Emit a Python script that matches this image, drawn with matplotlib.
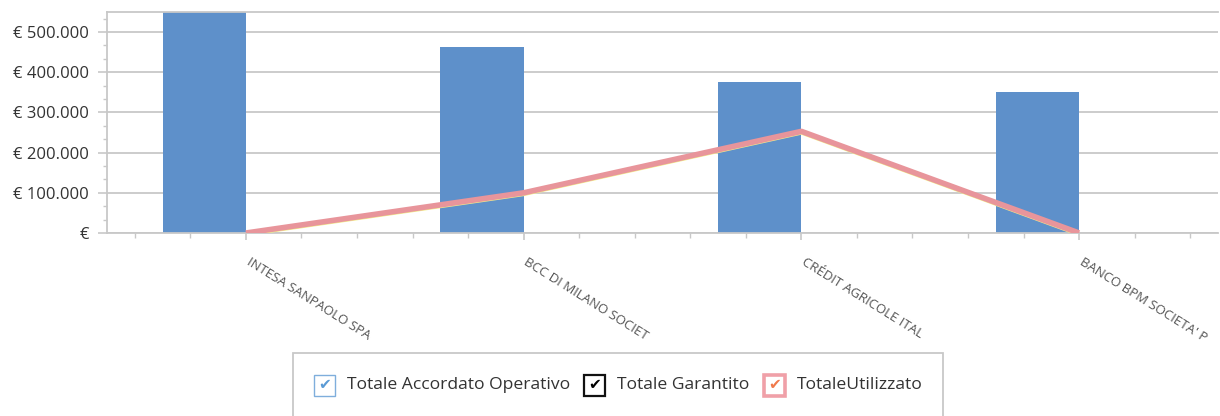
import matplotlib
matplotlib.use("Agg")
import matplotlib.pyplot as plt
from matplotlib.patches import Rectangle
from matplotlib.ticker import MultipleLocator, FuncFormatter, FixedLocator
import matplotlib.transforms as mtransforms

# ---- data ----
categories = ["INTESA SANPAOLO SPA", "BCC DI MILANO SOCIET", "CRÉDIT AGRICOLE ITAL", "BANCO BPM SOCIETA' P"]
accordato = [560000, 463000, 376000, 351000]
garantito = [0, 100000, 253000, 0]
utilizzato = [0, 100000, 253000, 0]
legend_labels = ["Totale Accordato Operativo", "Totale Garantito", "TotaleUtilizzato"]

W, H = 1220, 416
plt.rcParams['font.family'] = ['Open Sans', 'DejaVu Sans']
fig = plt.figure(figsize=(W / 100, H / 100), dpi=100)

def fx(x):
    return x / W

def fy(y):
    return 1 - y / H

ax_l, ax_r, ax_t, ax_b = 107, 1218, 12, 233
ax = fig.add_axes([fx(ax_l), fy(ax_b), fx(ax_r - ax_l), (ax_b - ax_t) / H])

grid_c = "#C8C8C8"
bar_c = "#5E90CA"
line_c = "#E8959B"

xs = list(range(len(categories)))
bar_w = 0.3
ax.bar([x - bar_w / 2 for x in xs], accordato, width=bar_w, color=bar_c, zorder=2)

off = mtransforms.offset_copy(ax.transData, fig=fig, x=0, y=-2.4, units='dots')
ax.plot(xs, garantito, color="#F2F08A", lw=1.4, zorder=3, transform=off, solid_capstyle='butt')
ax.plot(xs, utilizzato, color=line_c, lw=4.0, zorder=4, solid_capstyle='butt')

ax.set_xlim(-0.5, 3.5)
ax.set_ylim(0, 550000)

ax.yaxis.set_major_locator(MultipleLocator(100000))
ax.yaxis.set_minor_locator(MultipleLocator(100000 / 3))

def yfmt(v, pos):
    if v == 0:
        return "€"
    return "€ " + f"{v:,.0f}".replace(",", ".")

ax.yaxis.set_major_formatter(FuncFormatter(yfmt))
ax.set_xticks(xs)
ax.set_xticklabels(categories)
ax.xaxis.set_minor_locator(FixedLocator([-0.4, -0.2, 0.2, 0.4, 0.6, 0.8, 1.2, 1.4, 1.6, 1.8,
                                         2.2, 2.4, 2.6, 2.8, 3.2, 3.4]))

ax.grid(axis='y', which='major', color=grid_c, lw=1.3, zorder=0)
ax.spines['right'].set_visible(False)
for s in ['left', 'bottom', 'top']:
    ax.spines[s].set_color(grid_c)
    ax.spines[s].set_linewidth(1.3)

ax.tick_params(axis='y', which='major', length=6.5, width=1.2, color=grid_c, labelsize=12,
               labelcolor="#333333", pad=6.5)
ax.tick_params(axis='y', which='minor', length=3, width=1.0, color=grid_c)
ax.tick_params(axis='x', which='major', length=5, width=1.2, color=grid_c, labelsize=9.5,
               labelcolor="#555555", pad=11)
ax.tick_params(axis='x', which='minor', length=3.5, width=1.0, color=grid_c)
shift = mtransforms.ScaledTranslation(5 / 100, 0, fig.dpi_scale_trans)
for lab in ax.get_xticklabels():
    lab.set_rotation(-32)
    lab.set_rotation_mode('anchor')
    lab.set_ha('left')
    lab.set_va('top')
    lab.set_transform(lab.get_transform() + shift)

# ---- legend (checkbox style) ----
fig.patches.append(Rectangle((fx(293), fy(420)), fx(943 - 293), (420 - 353) / H,
                             transform=fig.transFigure, fill=False, edgecolor="#C8C8C8", lw=1.3))

box_specs = [
    (314, "#7FAEDC", 1.0, "#5B9BD5", 347),
    (584, "#111111", 1.6, "#000000", 617),
    (764, "#F0A0A8", 2.6, "#F07A4C", 797),
]
cy = 385
bs = 21
for (bx, ec, lw, cc, tx), lab in zip(box_specs, legend_labels):
    fig.patches.append(Rectangle((fx(bx), fy(cy + bs / 2)), fx(bs), bs / H,
                                 transform=fig.transFigure, fill=True, facecolor="white",
                                 edgecolor=ec, lw=lw))
    fig.text(fx(bx + bs / 2), fy(cy), "✔", family="DejaVu Sans", fontsize=11, color=cc,
             ha='center', va='center')
    fig.text(fx(tx), fy(cy), lab, fontsize=12.6, color="#333333", ha='left', va='center')

fig.savefig("out.png", dpi=100)
